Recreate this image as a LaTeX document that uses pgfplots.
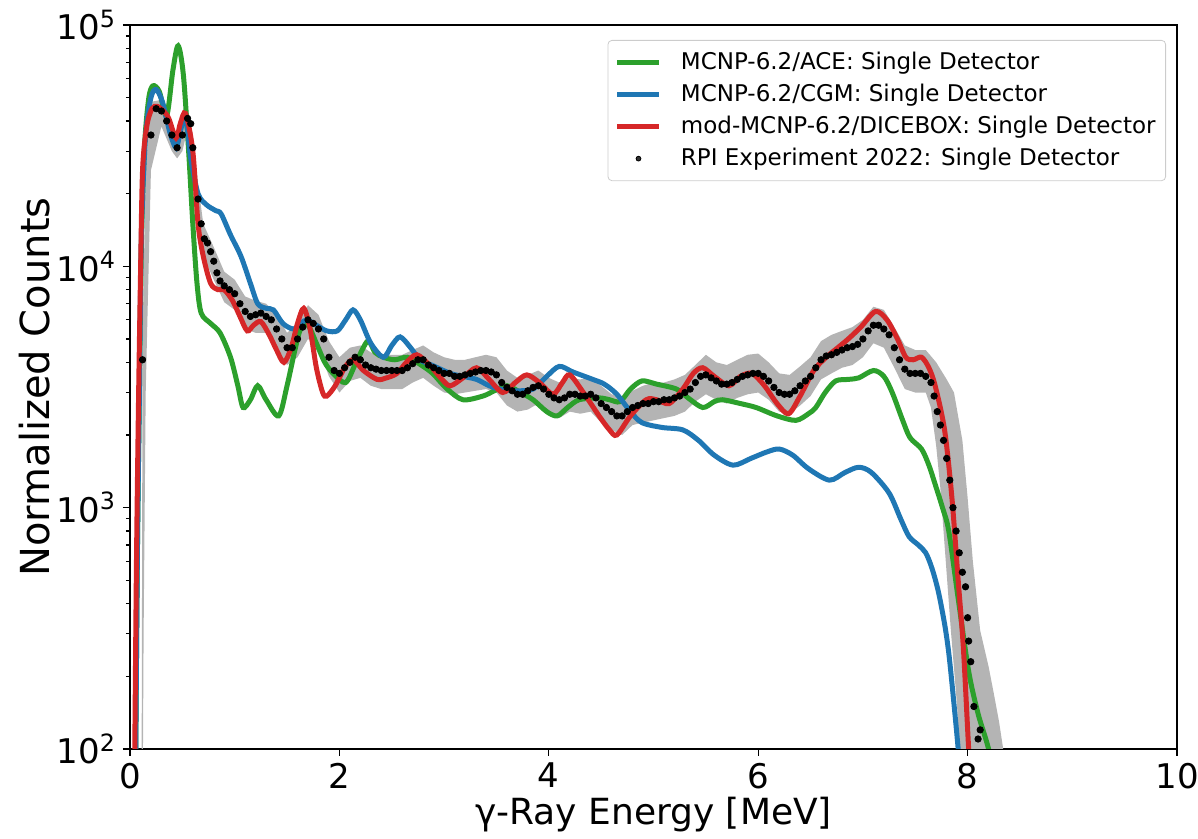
\documentclass[border=0pt]{standalone}
\usepackage{pgfplots}
\pgfplotsset{compat=1.18}
\usepackage{fontspec}
\setmainfont{DejaVu Sans}
\definecolor{mplgreen}{HTML}{2CA02C}
\definecolor{mplblue}{HTML}{1F77B4}
\definecolor{mplred}{HTML}{D62728}
\definecolor{bandgray}{RGB}{180,180,180}
\pgfplotsset{
  linelegend/.style={legend image code/.code={\draw[##1] (0pt,0pt) -- (21pt,0pt);}},
  dotlegend/.style={legend image code/.code={\draw[##1] plot coordinates {(10.5pt,0pt)};}},
}
\begin{document}
\begin{tikzpicture}
\path[use as bounding box] (-65pt,-45pt) rectangle (534pt,374.5pt);
\begin{axis}[
  at={(0,0)}, anchor=south west,
  scale only axis, width=523.5pt, height=362pt,
  xmin=0, xmax=10, ymin=100, ymax=100000,
  ymode=log,
  xtick={0,2,4,6,8,10},
  ytick={100,1000,10000,100000},
  yticklabels={10\textsuperscript{2},10\textsuperscript{3},10\textsuperscript{4},10\textsuperscript{5}},
  minor ytick={200,300,400,500,600,700,800,900,2000,3000,4000,5000,6000,7000,8000,9000,20000,30000,40000,50000,60000,70000,80000,90000},
  tick align=outside, xtick pos=left, ytick pos=left,
  major tick length=3.5pt, minor tick length=2pt,
  every tick/.style={black, line width=0.6pt},
  axis line style={line width=0.75pt},
  /pgf/number format/assume math mode=true,
  ticklabel style={font=\fontsize{17}{20}\selectfont},
  xlabel={γ-Ray Energy [MeV]},
  ylabel={Normalized Counts},
  xlabel style={font=\fontsize{18}{22}\selectfont, at={(axis description cs:0.5,-0.0912)}, anchor=center},
  ylabel style={font=\fontsize{20}{24}\selectfont, at={(axis description cs:-0.0907,0.5)}, anchor=center},
  legend style={at={(rel axis cs:1,1)}, anchor=north east, xshift=-5.5pt, yshift=-7.5pt,
    font=\fontsize{11.5}{13}\selectfont, draw=black!20, rounded corners=2pt,
    fill=white, fill opacity=0.8, text opacity=1, inner xsep=3.5pt, inner ysep=3pt,
    nodes={inner ysep=2.9pt, inner xsep=1.5pt}, column sep=8pt},
  legend cell align=left,
]
% uncertainty band
\addplot[draw=none, fill=bandgray, forget plot] coordinates {
(0.11,50)(0.12,5000)(0.15,2.5e4)(0.2,4.8e4)(0.3,4.9e4)(0.4,3.9e4)(0.45,3.4e4)(0.5,3.9e4)(0.55,4.5e4)(0.6,3.5e4)(0.65,2.2e4)(0.7,1.5e4)(0.8,1.2e4)(0.9,9.5e3)(1.0,8.8e3)(1.1,7.5e3)(1.2,7.2e3)(1.3,7.0e3)(1.4,6.3e3)(1.5,5.3e3)(1.6,5.8e3)(1.7,6.9e3)(1.8,6.3e3)(1.9,4.9e3)(2.0,4.2e3)(2.1,4.6e3)(2.2,4.7e3)(2.3,4.4e3)(2.4,4.3e3)(2.5,4.3e3)(2.6,4.3e3)(2.7,4.5e3)(2.8,4.7e3)(2.9,4.4e3)(3.0,4.2e3)(3.1,4.1e3)(3.2,4.1e3)(3.3,4.2e3)(3.4,4.3e3)(3.5,4.2e3)(3.6,3.7e3)(3.7,3.45e3)(3.8,3.55e3)(3.9,3.7e3)(4.0,3.45e3)(4.1,3.3e3)(4.2,3.45e3)(4.3,3.4e3)(4.4,3.45e3)(4.5,3.2e3)(4.6,2.95e3)(4.7,2.85e3)(4.8,3.05e3)(4.9,3.2e3)(5.0,3.3e3)(5.1,3.3e3)(5.2,3.4e3)(5.3,3.55e3)(5.4,3.9e3)(5.5,4.3e3)(5.6,4.0e3)(5.7,3.9e3)(5.8,4.1e3)(5.9,4.3e3)(6.0,4.35e3)(6.1,4.0e3)(6.2,3.6e3)(6.3,3.55e3)(6.4,3.85e3)(6.5,4.2e3)(6.6,4.9e3)(6.7,5.2e3)(6.8,5.4e3)(6.9,5.6e3)(7.0,6.0e3)(7.1,6.8e3)(7.2,6.6e3)(7.3,5.6e3)(7.4,4.7e3)(7.5,4.5e3)(7.6,4.5e3)(7.7,4.0e3)(7.8,3.4e3)(7.87,3.0e3)(7.95,1.9e3)(8.0,1.1e3)(8.05,600)(8.12,310)(8.2,220)(8.25,170)(8.3,130)(8.34,100)(8.4,60)
(7.94,60)(7.90,150)(7.84,310)(7.77,800)(7.74,1.2e3)(7.70,1.8e3)(7.65,2.6e3)(7.6,3.0e3)(7.5,3.0e3)(7.4,3.1e3)(7.3,3.8e3)(7.2,4.6e3)(7.1,4.8e3)(7.0,4.2e3)(6.9,3.9e3)(6.8,3.8e3)(6.7,3.6e3)(6.6,3.4e3)(6.5,2.9e3)(6.4,2.65e3)(6.3,2.45e3)(6.2,2.5e3)(6.1,2.8e3)(6.0,3.0e3)(5.9,2.95e3)(5.8,2.85e3)(5.7,2.7e3)(5.6,2.8e3)(5.5,2.95e3)(5.4,2.75e3)(5.3,2.5e3)(5.2,2.4e3)(5.1,2.35e3)(5.0,2.3e3)(4.9,2.25e3)(4.8,2.2e3)(4.7,2.0e3)(4.6,2.1e3)(4.5,2.25e3)(4.4,2.5e3)(4.3,2.45e3)(4.2,2.5e3)(4.1,2.35e3)(4.0,2.5e3)(3.9,2.7e3)(3.8,2.55e3)(3.7,2.5e3)(3.6,2.65e3)(3.5,3.0e3)(3.4,3.1e3)(3.3,3.05e3)(3.2,3.0e3)(3.1,2.95e3)(3.0,3.0e3)(2.9,3.2e3)(2.8,3.45e3)(2.7,3.3e3)(2.6,3.1e3)(2.5,3.1e3)(2.4,3.1e3)(2.3,3.2e3)(2.2,3.45e3)(2.1,3.35e3)(2.0,3.0e3)(1.9,3.5e3)(1.8,4.6e3)(1.7,5.0e3)(1.6,4.2e3)(1.5,3.9e3)(1.4,4.6e3)(1.3,5.3e3)(1.2,5.3e3)(1.1,5.5e3)(1.0,6.6e3)(0.9,7.1e3)(0.8,8.8e3)(0.7,1.1e4)(0.65,1.6e4)(0.6,2.7e4)(0.55,3.7e4)(0.5,3.0e4)(0.45,2.8e4)(0.4,3.0e4)(0.3,3.8e4)(0.2,2.5e4)(0.15,3000)(0.13,300)(0.12,50)
};
% experiment
\addplot[only marks, mark=*, mark size=1.6pt, black, forget plot] coordinates {
(0.12,4100)(0.20,3.5e4)(0.25,4.5e4)(0.30,4.4e4)(0.35,4.0e4)(0.40,3.5e4)(0.45,3.1e4)(0.50,3.5e4)(0.55,4.1e4)(0.58,3.9e4)(0.60,3.1e4)(0.65,1.9e4)(0.68,1.5e4)(0.71,1.3e4)(0.74,1.25e4)(0.77,1.15e4)(0.80,1.05e4)(0.83,9.4e3)(0.86,8.7e3)(0.90,8.3e3)(0.95,8.0e3)(1.00,7.7e3)(1.05,7.0e3)(1.10,6.5e3)(1.15,6.2e3)(1.20,6.3e3)(1.25,6.4e3)(1.30,6.2e3)(1.35,6.0e3)(1.40,5.5e3)(1.45,5.0e3)(1.50,4.6e3)(1.55,4.6e3)(1.60,5.0e3)(1.65,5.6e3)(1.70,6.0e3)(1.75,5.8e3)(1.80,5.5e3)(1.85,5.0e3)(1.90,4.2e3)(1.95,3.7e3)(2.00,3.6e3)(2.05,3.8e3)(2.10,4.0e3)(2.15,4.2e3)(2.20,4.1e3)(2.25,3.9e3)(2.30,3.8e3)(2.35,3.75e3)(2.40,3.7e3)(2.45,3.7e3)(2.50,3.7e3)(2.55,3.7e3)(2.60,3.7e3)(2.65,3.8e3)(2.70,3.95e3)(2.75,4.1e3)(2.80,4.1e3)(2.85,3.9e3)(2.90,3.8e3)(2.95,3.7e3)(3.00,3.6e3)(3.05,3.6e3)(3.10,3.5e3)(3.15,3.5e3)(3.20,3.55e3)(3.25,3.6e3)(3.30,3.65e3)(3.35,3.7e3)(3.40,3.7e3)(3.45,3.65e3)(3.50,3.55e3)(3.55,3.3e3)(3.60,3.15e3)(3.65,3.05e3)(3.70,2.95e3)(3.75,2.95e3)(3.80,3.05e3)(3.85,3.15e3)(3.90,3.2e3)(3.95,3.1e3)(4.00,2.95e3)(4.05,2.85e3)(4.10,2.8e3)(4.15,2.85e3)(4.20,2.95e3)(4.25,2.95e3)(4.30,2.9e3)(4.35,2.9e3)(4.40,2.95e3)(4.45,2.85e3)(4.50,2.7e3)(4.55,2.6e3)(4.60,2.5e3)(4.65,2.4e3)(4.70,2.4e3)(4.75,2.5e3)(4.80,2.6e3)(4.85,2.65e3)(4.90,2.7e3)(4.95,2.7e3)(5.00,2.75e3)(5.05,2.75e3)(5.10,2.8e3)(5.15,2.8e3)(5.20,2.85e3)(5.25,2.9e3)(5.30,3.0e3)(5.35,3.1e3)(5.40,3.3e3)(5.45,3.5e3)(5.50,3.55e3)(5.55,3.45e3)(5.60,3.35e3)(5.65,3.25e3)(5.70,3.25e3)(5.75,3.3e3)(5.80,3.4e3)(5.85,3.5e3)(5.90,3.55e3)(5.95,3.6e3)(6.00,3.6e3)(6.05,3.5e3)(6.10,3.35e3)(6.15,3.15e3)(6.20,3.0e3)(6.25,2.95e3)(6.30,2.95e3)(6.35,3.05e3)(6.40,3.2e3)(6.45,3.35e3)(6.50,3.5e3)(6.55,3.8e3)(6.60,4.1e3)(6.65,4.25e3)(6.70,4.3e3)(6.75,4.4e3)(6.80,4.5e3)(6.85,4.6e3)(6.90,4.65e3)(6.95,4.75e3)(7.00,5.0e3)(7.05,5.4e3)(7.10,5.7e3)(7.15,5.7e3)(7.20,5.5e3)(7.25,5.2e3)(7.30,4.6e3)(7.35,4.1e3)(7.40,3.75e3)(7.45,3.6e3)(7.50,3.6e3)(7.55,3.6e3)(7.60,3.5e3)(7.65,3.3e3)(7.68,2.9e3)(7.71,2.5e3)(7.74,2.2e3)(7.77,1.9e3)(7.80,1.6e3)(7.83,1.3e3)(7.86,1.0e3)(7.89,800)(7.92,650)(7.95,540)(7.98,470)(8.00,350)(8.01,280)(8.03,230)(8.06,150)(8.10,110)(8.12,120)
};
% ACE
\addplot[mplgreen, line width=2.5pt, smooth, forget plot] coordinates {
(0.05,50)(0.07,600)(0.09,3000)(0.11,1.3e4)(0.14,3.2e4)(0.18,5.0e4)(0.22,5.6e4)(0.28,5.3e4)(0.35,4.2e4)(0.41,6.5e4)(0.46,8.2e4)(0.51,6.2e4)(0.56,3.0e4)(0.60,1.5e4)(0.64,8.5e3)(0.68,6.4e3)(0.77,5.8e3)(0.86,5.3e3)(0.96,4.2e3)(1.03,3.2e3)(1.08,2.6e3)(1.15,2.8e3)(1.22,3.2e3)(1.30,2.8e3)(1.42,2.4e3)(1.50,3.2e3)(1.58,4.6e3)(1.63,5.5e3)(1.70,5.7e3)(1.78,4.8e3)(1.86,4.0e3)(1.94,3.6e3)(2.06,3.3e3)(2.16,4.0e3)(2.27,4.9e3)(2.34,4.4e3)(2.42,4.2e3)(2.53,4.1e3)(2.65,4.2e3)(2.78,3.9e3)(2.89,3.6e3)(3.03,3.1e3)(3.18,2.8e3)(3.37,2.9e3)(3.48,3.05e3)(3.60,3.2e3)(3.73,3.0e3)(3.85,2.8e3)(3.98,2.5e3)(4.08,2.4e3)(4.18,2.6e3)(4.29,2.8e3)(4.48,2.85e3)(4.58,2.8e3)(4.68,2.75e3)(4.78,3.1e3)(4.89,3.35e3)(5.03,3.25e3)(5.22,3.1e3)(5.33,2.85e3)(5.47,2.6e3)(5.58,2.75e3)(5.66,2.8e3)(5.83,2.7e3)(5.98,2.6e3)(6.18,2.4e3)(6.36,2.3e3)(6.48,2.45e3)(6.55,2.6e3)(6.64,3.0e3)(6.74,3.35e3)(6.86,3.4e3)(6.96,3.45e3)(7.10,3.7e3)(7.20,3.5e3)(7.28,3.0e3)(7.38,2.3e3)(7.45,1.95e3)(7.56,1.75e3)(7.63,1.5e3)(7.69,1.25e3)(7.76,1.0e3)(7.82,800)(7.91,420)(8.01,210)(8.10,140)(8.20,100)(8.26,70)
};
% CGM
\addplot[mplblue, line width=2.5pt, smooth, forget plot] coordinates {
(0.05,50)(0.07,600)(0.09,3000)(0.11,1.4e4)(0.15,3.5e4)(0.20,5.0e4)(0.25,5.4e4)(0.31,4.8e4)(0.38,3.6e4)(0.44,3.1e4)(0.48,3.6e4)(0.53,4.2e4)(0.58,2.8e4)(0.65,2.0e4)(0.73,1.8e4)(0.82,1.7e4)(0.87,1.65e4)(0.96,1.35e4)(1.06,1.1e4)(1.15,8.5e3)(1.22,7.0e3)(1.30,6.7e3)(1.37,6.6e3)(1.46,5.8e3)(1.56,5.5e3)(1.63,5.8e3)(1.69,6.0e3)(1.78,5.7e3)(1.88,5.4e3)(1.98,5.4e3)(2.06,6.0e3)(2.13,6.6e3)(2.20,6.0e3)(2.30,4.8e3)(2.42,4.2e3)(2.50,4.7e3)(2.58,5.1e3)(2.68,4.6e3)(2.77,4.1e3)(2.88,3.9e3)(3.06,3.6e3)(3.18,3.5e3)(3.31,3.4e3)(3.43,3.2e3)(3.53,3.1e3)(3.68,3.05e3)(3.85,3.1e3)(3.98,3.5e3)(4.10,3.85e3)(4.23,3.65e3)(4.42,3.4e3)(4.53,3.25e3)(4.65,2.95e3)(4.78,2.5e3)(4.89,2.25e3)(5.08,2.15e3)(5.28,2.1e3)(5.43,1.9e3)(5.58,1.65e3)(5.76,1.5e3)(5.93,1.6e3)(6.08,1.7e3)(6.20,1.75e3)(6.33,1.65e3)(6.48,1.45e3)(6.68,1.3e3)(6.83,1.4e3)(6.96,1.47e3)(7.08,1.4e3)(7.25,1.15e3)(7.36,900)(7.44,760)(7.53,700)(7.60,650)(7.66,560)(7.72,450)(7.78,330)(7.82,250)(7.86,170)(7.91,100)(7.95,60)
};
% DICEBOX
\addplot[mplred, line width=2.5pt, smooth, forget plot] coordinates {
(0.04,50)(0.06,500)(0.08,2500)(0.10,9000)(0.12,2.5e4)(0.16,3.8e4)(0.21,4.5e4)(0.26,4.6e4)(0.32,4.4e4)(0.37,4.1e4)(0.44,3.4e4)(0.48,3.9e4)(0.53,4.3e4)(0.60,3.0e4)(0.65,1.5e4)(0.70,1.1e4)(0.77,8.5e3)(0.84,8.0e3)(0.90,8.0e3)(0.98,7.2e3)(1.05,6.2e3)(1.12,5.4e3)(1.18,5.7e3)(1.25,5.9e3)(1.33,5.2e3)(1.40,4.5e3)(1.47,4.0e3)(1.54,4.6e3)(1.60,5.8e3)(1.66,6.7e3)(1.72,5.5e3)(1.78,3.8e3)(1.84,3.0e3)(1.88,2.9e3)(1.96,3.2e3)(2.05,3.8e3)(2.13,4.1e3)(2.23,3.7e3)(2.36,3.4e3)(2.45,3.45e3)(2.55,3.6e3)(2.64,4.0e3)(2.74,4.3e3)(2.86,3.9e3)(2.98,3.4e3)(3.06,3.2e3)(3.18,3.45e3)(3.31,3.8e3)(3.43,3.4e3)(3.56,3.0e3)(3.68,3.3e3)(3.79,3.55e3)(3.91,3.3e3)(4.04,2.95e3)(4.13,3.3e3)(4.20,3.55e3)(4.33,3.0e3)(4.48,2.4e3)(4.58,2.1e3)(4.65,2.0e3)(4.78,2.4e3)(4.93,2.8e3)(5.03,2.8e3)(5.15,2.7e3)(5.28,3.1e3)(5.38,3.6e3)(5.47,3.8e3)(5.58,3.5e3)(5.72,3.2e3)(5.83,3.5e3)(5.94,3.6e3)(6.06,3.2e3)(6.18,2.7e3)(6.29,2.45e3)(6.40,2.9e3)(6.53,3.7e3)(6.65,4.2e3)(6.76,4.6e3)(6.86,5.0e3)(6.98,5.6e3)(7.12,6.5e3)(7.23,6.0e3)(7.33,5.0e3)(7.41,4.2e3)(7.48,4.1e3)(7.56,4.2e3)(7.63,3.8e3)(7.69,3.2e3)(7.78,2.1e3)(7.85,1.1e3)(7.91,500)(7.96,260)(8.01,100)(8.05,50)
};
\addlegendimage{mplgreen, line width=2.5pt, linelegend}
\addlegendentry{MCNP-6.2/ACE: Single Detector}
\addlegendimage{mplblue, line width=2.5pt, linelegend}
\addlegendentry{MCNP-6.2/CGM: Single Detector}
\addlegendimage{mplred, line width=2.5pt, linelegend}
\addlegendentry{mod-MCNP-6.2/DICEBOX: Single Detector}
\addlegendimage{only marks, mark=*, mark size=1.2pt, black, dotlegend}
\addlegendentry{RPI Experiment 2022: Single Detector}
\end{axis}
\end{tikzpicture}
\end{document}
